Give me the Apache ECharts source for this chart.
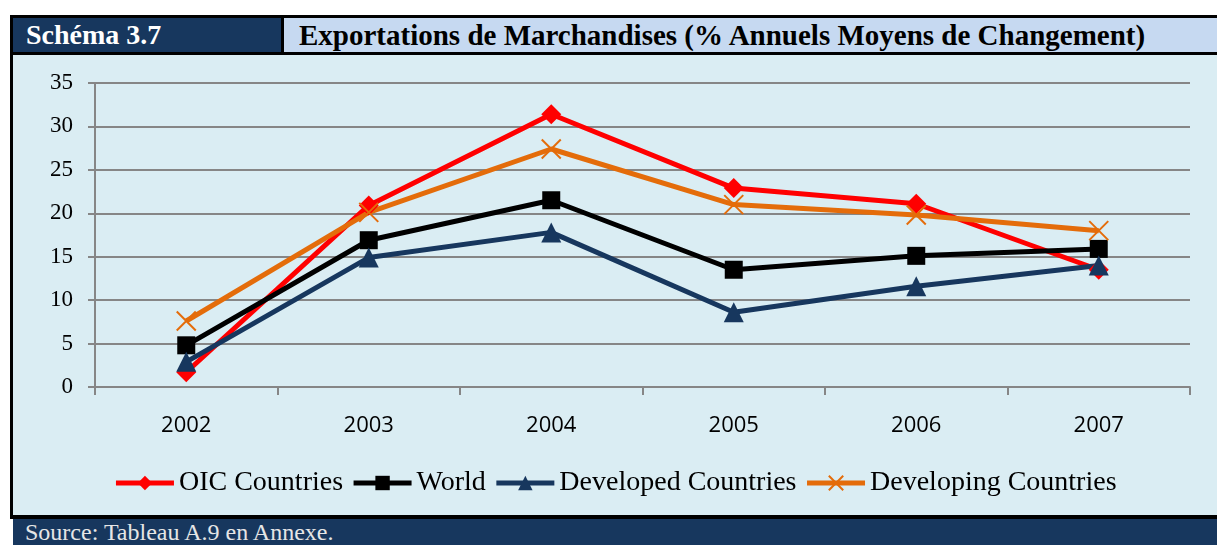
<!DOCTYPE html>
<html>
<head>
<meta charset="utf-8">
<script src="https://cdn.jsdelivr.net/npm/echarts@6/dist/echarts.min.js"></script>
<style>
  html, body { margin: 0; padding: 0; background: #ffffff; }
  body { width: 1217px; height: 545px; position: relative; overflow: hidden; font-family: "Liberation Serif", "DejaVu Serif", serif; }
  .blk { position: absolute; }
  #frame { left: 10px; top: 15px; width: 1207px; height: 504px; background: #000; }
  #tag { left: 13px; top: 18px; width: 268px; height: 34px; background: #17375e; color: #fff; font-weight: bold; font-size: 28px; line-height: 34px; }
  #tag span, #title span { position: absolute; left: 13px; top: 0; }
  #title { left: 284px; top: 18px; width: 933px; height: 34px; background: #c6d9f1; color: #000; font-weight: bold; font-size: 29px; line-height: 34px; }
  #title span { left: 15px; }
  #chart { left: 13px; top: 55px; width: 1204px; height: 460px; background: #daedf3; }
  #source { left: 13px; top: 519px; width: 1204px; height: 26px; background: #17375e; color: #e6e6e6; font-size: 24px; line-height: 27px; }
  #source span { position: absolute; left: 12px; top: 0; }
</style>
</head>
<body>
<div class="blk" id="frame"></div>
<div class="blk" id="tag"><span>Schéma 3.7</span></div>
<div class="blk" id="title"><span>Exportations de Marchandises (% Annuels Moyens de Changement)</span></div>
<div class="blk" id="chart"></div>
<div class="blk" id="source"><span>Source: Tableau A.9 en Annexe.</span></div>
<script>
// annual average change in merchandise exports (%)
const years = ['2002', '2003', '2004', '2005', '2006', '2007'];
const oic = [1.7, 20.9, 31.4, 22.9, 21.1, 13.5];
const world = [4.8, 16.9, 21.5, 13.5, 15.1, 15.9];
const developed = [2.9, 14.9, 17.8, 8.6, 11.6, 14.0];
const developing = [7.6, 20.1, 27.4, 21.0, 19.8, 18.0];

const yTicks = { min: 0, max: 35, interval: 5 };

const gridColor = '#868686';
const serif = "'Liberation Serif', 'Times New Roman', serif";
const crossPath = 'path://M0,0L10,10M10,0L0,10';
const colors = { oic: '#ff0000', world: '#000000', developed: '#17375e', developing: '#e46c0a' };

const chart = echarts.init(document.getElementById('chart'), null, { renderer: 'canvas' });

function lineSeries(name, data, color, symbol, size, extra) {
  return Object.assign({
    name,
    type: 'line',
    data,
    symbol,
    symbolSize: size,
    showAllSymbol: true,
    lineStyle: { width: 5, color },
    itemStyle: { color },
    emphasis: { disabled: true }
  }, extra || {});
}

function legendItem(name, color) {
  return { name, lineStyle: { width: 5, color } };
}

chart.setOption({
  backgroundColor: 'transparent',
  animation: false,
  textStyle: { fontFamily: serif },
  grid: { left: 82, right: 27, top: 28, bottom: 128 },
  legend: {
    left: 'center',
    top: 409,
    itemWidth: 58,
    itemHeight: 18,
    itemGap: 8,
    textStyle: { fontFamily: serif, fontSize: 28, color: '#000' },
    data: [
      legendItem('OIC Countries', colors.oic),
      legendItem('World', colors.world),
      legendItem('Developed Countries', colors.developed),
      legendItem('Developing Countries', colors.developing)
    ]
  },
  xAxis: {
    type: 'category',
    data: years,
    boundaryGap: true,
    axisLine: { lineStyle: { color: gridColor, width: 2 } },
    axisTick: { show: true, length: 8, lineStyle: { color: gridColor, width: 2 } },
    axisLabel: { color: '#000', fontFamily: "'Open Sans', sans-serif", fontSize: 22, margin: 28 }
  },
  yAxis: {
    type: 'value',
    min: yTicks.min,
    max: yTicks.max,
    interval: yTicks.interval,
    axisLine: { show: true, lineStyle: { color: gridColor, width: 2 } },
    axisTick: { show: true, length: 7, lineStyle: { color: gridColor, width: 2 } },
    axisLabel: { color: '#000', fontFamily: serif, fontSize: 23, margin: 22 },
    splitLine: { lineStyle: { color: gridColor, width: 2 } }
  },
  series: [
    lineSeries('OIC Countries', oic, colors.oic, 'diamond', 20),
    lineSeries('World', world, colors.world, 'rect', 18),
    lineSeries('Developed Countries', developed, colors.developed, 'triangle', 20),
    lineSeries('Developing Countries', developing, colors.developing, crossPath, 19, {
      itemStyle: { color: 'none', borderColor: colors.developing, borderWidth: 2 }
    })
  ]
});
</script>
</body>
</html>
